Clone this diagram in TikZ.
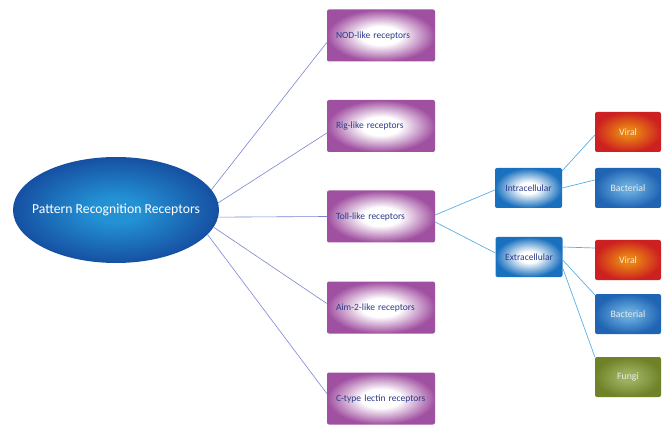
\documentclass[tikz,border=0pt]{standalone}
\usepackage{fontspec}
\setmainfont{Carlito}
\usetikzlibrary{shapes.geometric, positioning, calc}

\definecolor{prrdeep}{RGB}{22,80,162}
\definecolor{prrlight}{RGB}{35,145,212}
\definecolor{receptorpurple}{RGB}{160,80,160}
\definecolor{cellblue}{RGB}{25,112,190}
\definecolor{viralred}{RGB}{205,32,32}
\definecolor{viralorange}{RGB}{232,128,20}
\definecolor{bactdeep}{RGB}{32,100,180}
\definecolor{bactlight}{RGB}{100,168,220}
\definecolor{fungideep}{RGB}{112,130,40}
\definecolor{fungilight}{RGB}{155,175,95}
\definecolor{labelblue}{RGB}{45,58,140}
\definecolor{spokeblue}{RGB}{120,132,210}
\definecolor{branchblue}{RGB}{90,175,225}

\pgfdeclareradialshading{prrglow}{\pgfpoint{0bp}{0bp}}{color(0bp)=(prrlight); color(6bp)=(prrlight); color(25bp)=(prrdeep); color(50bp)=(prrdeep)}
\pgfdeclareradialshading{purpleglow}{\pgfpoint{0bp}{0bp}}{color(0bp)=(white); color(9bp)=(white); color(25bp)=(receptorpurple); color(50bp)=(receptorpurple)}
\pgfdeclareradialshading{cellglow}{\pgfpoint{0bp}{0bp}}{color(0bp)=(white); color(7bp)=(white); color(25bp)=(cellblue); color(50bp)=(cellblue)}
\pgfdeclareradialshading{viralglow}{\pgfpoint{0bp}{0bp}}{color(0bp)=(viralorange); color(6bp)=(viralorange); color(25bp)=(viralred); color(50bp)=(viralred)}
\pgfdeclareradialshading{bactglow}{\pgfpoint{0bp}{0bp}}{color(0bp)=(bactlight); color(6bp)=(bactlight); color(25bp)=(bactdeep); color(50bp)=(bactdeep)}
\pgfdeclareradialshading{fungiglow}{\pgfpoint{0bp}{0bp}}{color(0bp)=(fungilight); color(6bp)=(fungilight); color(25bp)=(fungideep); color(50bp)=(fungideep)}

\begin{document}
\begin{tikzpicture}[x=1pt, y=-1pt,
    receptor/.style={rounded corners=2pt, minimum width=108pt, minimum height=52pt, text width=90pt, inner xsep=9pt, align=left, font=\fontsize{9.5}{11}\selectfont, text=labelblue, shading=purpleglow},
    cell/.style={rounded corners=2pt, minimum width=67pt, minimum height=40pt, inner sep=0pt, align=center, font=\fontsize{9.5}{11}\selectfont, text=labelblue, shading=cellglow},
    pathogen/.style={rounded corners=2pt, minimum width=66pt, minimum height=40pt, inner sep=0pt, align=center, font=\fontsize{9.8}{11}\selectfont, text=white!92!black},
    spoke/.style={line width=0.6pt, spokeblue},
    branch/.style={line width=0.7pt, branchblue}
]
\useasboundingbox (0,0) rectangle (662,425);

% Central ellipse
\node[ellipse, minimum width=206pt, minimum height=106pt, inner xsep=-20pt, inner ysep=0pt, shading=prrglow, text=white, font=\fontsize{13.7}{16}\selectfont] (prr) at (116,210) {Pattern Recognition Receptors};

% Receptor families
\node[receptor] (nod) at (381,35.5) {NOD-like receptors};
\node[receptor] (rig) at (381,126) {Rig-like receptors};
\node[receptor] (toll) at (381,216.5) {Toll-like receptors};
\node[receptor] (aim) at (381,307.5) {Aim-2-like receptors};
\node[receptor] (ctype) at (381,398.5) {C-type lectin receptors};

% Location of the Toll-like receptors
\node[cell] (intra) at (528.5,188) {Intracellular};
\node[cell] (extra) at (529,257) {Extracellular};

% Pathogens
\node[pathogen, shading=viralglow] (viralin) at (628,132) {Viral};
\node[pathogen, shading=bactglow] (bactin) at (628,188) {Bacterial};
\node[pathogen, shading=viralglow] (viralex) at (628,260) {Viral};
\node[pathogen, shading=bactglow] (bactex) at (628,314) {Bacterial};
\node[pathogen, shading=fungiglow] (fungi) at (628,377) {Fungi};

% Spokes from the ellipse
\draw[spoke] (prr.12) -- ([yshift=-7pt]nod.west);
\draw[spoke] (prr.4.5) -- ([yshift=-7pt]rig.west);
\draw[spoke] (prr.-4) -- (toll.west);
\draw[spoke] (prr.-10) -- ([yshift=4pt]aim.west);
\draw[spoke] (prr.-15) -- ([yshift=5pt]ctype.west);

% Branches
\draw[branch] ([yshift=1.5pt]toll.east) -- ([yshift=-2pt]intra.west);
\draw[branch] ([yshift=-5.5pt]toll.east) -- ([yshift=4pt]extra.west);
\draw[branch] ([yshift=-3pt]intra.north east) -- ([yshift=-3pt]viralin.west);
\draw[branch] (intra.east) -- ([yshift=8pt]bactin.west);
\draw[branch] ([yshift=10pt]extra.east) -- ([yshift=12pt]viralex.west);
\draw[branch] ([yshift=-3pt]extra.east) -- ([yshift=-1pt]bactex.north west);
\draw[branch] ([yshift=-11pt]extra.east) -- (fungi.north west);

\end{tikzpicture}
\end{document}
